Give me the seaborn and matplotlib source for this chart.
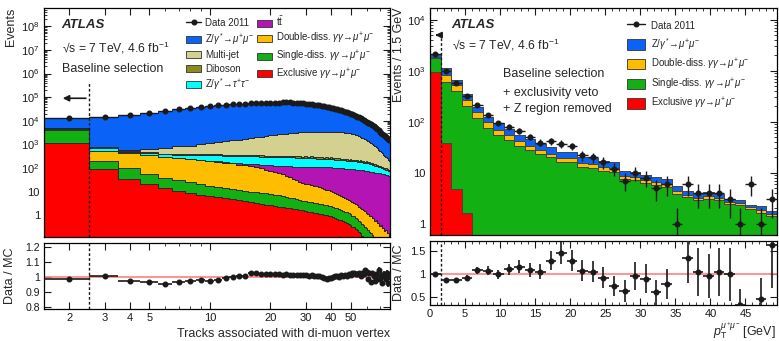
import numpy as np
import pandas as pd
import matplotlib
matplotlib.use("Agg")
import matplotlib.pyplot as plt
from matplotlib.ticker import FixedLocator, FuncFormatter, MultipleLocator, NullFormatter, LogLocator
from matplotlib.patches import Patch, Rectangle
from matplotlib.lines import Line2D
from matplotlib.legend_handler import HandlerPatch
import seaborn as sns

# ---------------- left panel: tracks at the di-muon vertex (bins 2..78) ----------------
tracks = list(range(2, 79))
data_left = [13300, 15000, 18000, 21000, 25000, 30500, 35000, 38500, 41500, 44500,
             47500, 50000, 52000, 54000, 55500, 56500, 57500, 58200, 58800, 59200,
             59500, 59700, 59800, 59700, 59000, 58000, 56500, 55000, 53500, 52000,
             50500, 49000, 47300, 45600, 43900, 42000, 40000, 38000, 36200, 34400,
             32600, 30800, 29100, 27500, 25900, 24400, 22900, 21500, 20100, 18800,
             17500, 16300, 15100, 14000, 12900, 11900, 10900, 10000, 9200, 8400,
             7700, 7000, 6400, 5800, 5300, 4800, 4300, 3900, 3500, 3150,
             2850, 2550, 2300, 2050, 1850, 1650, 1480]
ratio_left = [0.989, 1.009, 0.975, 0.968, 0.952, 0.964, 0.973, 0.982, 0.976, 0.981,
              0.997, 1.0, 1.01, 1.011, 1.026, 1.025, 1.023, 1.021, 1.02, 1.019,
              1.02, 1.017, 1.018, 1.016, 1.015, 1.014, 1.013, 1.012, 1.012, 1.01,
              1.013, 1.011, 1.007, 1.005, 0.998, 0.995, 0.99, 0.992, 0.995, 1.0,
              1.006, 1.01, 1.004, 1.012, 1.008, 1.015, 1.01, 1.02, 1.012, 1.025,
              1.03, 1.022, 1.018, 1.028, 1.01, 1.03, 1.02, 1.045, 1.035, 0.99,
              1.025, 0.968, 1.03, 1.01, 0.975, 1.02, 0.99, 1.05, 0.985, 1.015,
              0.962, 1.02, 1.0, 0.99, 1.025, 0.96, 1.01]
zmumu_left = [8640, 14110, 17860, 21080, 25550, 30820, 35080, 38210, 41370, 44110,
              46300, 48520, 49880, 51670, 52230, 53110, 54050, 54720, 55220, 55550,
              55650, 55910, 55850, 55750, 55030, 54010, 52520, 51040, 49480, 48060,
              46370, 44970, 43440, 41820, 40430, 38660, 36870, 34790, 32890, 30935,
              28970, 27100, 25630, 23880, 22460, 20870, 19570, 18050, 16930, 15520,
              14300, 13390, 12420, 11390, 10670, 9580, 8860, 8250, 7330, 7050,
              6200, 5990, 5140, 4780, 4550, 3940, 3660, 3180, 3020, 2640,
              2540, 2150, 2000, 1805, 1575, 1490, 1290]
multijet_left = [30, 50, 90, 150, 300, 420, 510, 610, 770, 870,
                 980, 1110, 1250, 1380, 1520, 1670, 1800, 1930, 2080, 2200,
                 2320, 2430, 2540, 2640, 2730, 2810, 2890, 2960, 3030, 3080,
                 3120, 3160, 3190, 3210, 3230, 3230, 3220, 3210, 3190, 3170,
                 3150, 3110, 3070, 3020, 2960, 2900, 2840, 2780, 2680, 2570,
                 2450, 2320, 2180, 2000, 1880, 1750, 1620, 1490, 1360, 1240,
                 1130, 1020, 910, 810, 720, 640, 560, 480, 420, 360,
                 310, 265, 225, 190, 160, 135, 115]
diboson_left = [15, 18, 18, 20, 22, 25, 22, 30, 26, 35,
                24, 40, 28, 45, 30, 38, 50, 33, 42, 28,
                47, 35, 52, 30, 44, 38, 55, 32, 46, 36,
                50, 29, 43, 38, 48, 27, 40, 34, 45, 26,
                38, 31, 42, 25, 36, 30, 39, 22, 33, 27,
                35, 20, 29, 24, 31, 18, 26, 21, 28, 16,
                23, 19, 24, 14, 20, 16, 21, 12, 17, 14,
                18, 11, 14, 12, 15, 9, 11]
ztautau_left = [60, 150, 60, 75, 95, 110, 125, 140, 150, 155,
                160, 163, 165, 166, 167, 167, 167, 166, 166, 166,
                166, 165, 165, 165, 164, 164, 163, 160, 156, 152,
                148, 145, 141, 138, 135, 134, 132, 130, 128, 127,
                125, 123, 121, 119, 117, 115, 113, 112, 110, 108,
                106, 104, 102, 100, 97, 94, 92, 89, 86, 84,
                81, 76, 72, 67, 63, 59, 54, 49, 47, 44,
                41, 38, 35, 33, 30, 28, 26]
ttbar_left = [0.3, 0.5, 0.8, 1.2, 1.7, 2.3, 3.0, 4.0, 5.0, 6.5,
              8, 12, 18, 24, 30, 36, 42, 48, 54, 59,
              64, 69, 73, 77, 80, 83, 86, 88, 90, 92,
              93, 94, 95, 95, 96, 96, 96, 96, 96, 95,
              95, 94, 93, 92, 91, 90, 89, 88, 87, 86,
              85, 83, 82, 80, 79, 78, 77, 76, 74, 72,
              70, 68, 67, 66, 64, 63, 62, 60, 59, 57,
              56, 54, 53, 52, 50, 48, 47]
double_left = [650, 340, 338, 315, 253, 230, 210, 194, 177, 168,
               156, 143, 129, 118, 107, 96, 87, 78, 67, 60,
               53, 47, 41, 35, 30, 26, 21, 19.5, 18, 16.8,
               15.5, 14.4, 13.3, 12.3, 11.3, 10.4, 9.5, 8.7, 8.0, 7.2,
               6.5, 5.9, 5.4, 4.9, 4.4, 4.0, 3.6, 3.3, 3.0, 2.6,
               2.45, 2.1, 2.0, 1.7, 1.5, 1.45, 1.2, 1.15, 0.95, 0.9,
               0.75, 0.8, 0.6, 0.62, 0.48, 0.52, 0.38, 0.42, 0.3, 0.33,
               0.24, 0.26, 0.18, 0.2, 0.14, 0.15, 0.1]
single_left = [2950, 112, 63, 34, 23, 19, 16.5, 13.5, 11.2, 10,
               8.7, 7.8, 6.9, 6.6, 6.3, 6.1, 5.8, 5.6, 5.4, 5.0,
               4.6, 4.3, 4.0, 3.6, 3.3, 3.0, 2.7, 2.55, 2.45, 2.35,
               2.25, 2.15, 2.05, 1.95, 1.85, 1.75, 1.65, 1.55, 1.45, 1.38,
               1.3, 1.22, 1.15, 1.05, 0.98, 0.9, 0.85, 0.78, 0.72, 0.62,
               0.58, 0.5, 0.46, 0.4, 0.36, 0.3, 0.28, 0.22, 0.2, 0.17,
               0.14, 0.12, 0.1, 0.09, 0.08, 0.06, 0.07, 0.05, 0.04, 0.05,
               0.03, 0.03, 0.02, 0.03, 0.02, 0.02, 0.01]
excl_left = [1100, 88, 34, 21, 14, 11, 8.5, 7.5, 6.6, 5.9,
             5.3, 4.8, 4.3, 3.9, 3.6, 3.3, 3.0, 2.8, 2.6, 2.45,
             2.3, 2.2, 2.1, 2.0, 1.9, 1.8, 1.7, 1.6, 1.5, 1.42,
             1.35, 1.28, 1.2, 1.15, 1.1, 1.05, 1.0, 0.95, 0.9, 0.84,
             0.78, 0.72, 0.66, 0.6, 0.55, 0.5, 0.46, 0.42, 0.38, 0.33,
             0.31, 0.26, 0.24, 0.19, 0.18, 0.13, 0.12, 0.09, 0.08, 0.07,
             0.06, 0.05, 0.04, 0.03, 0.03, 0.02, 0.02, 0.02, 0.01, 0.01,
             0.01, 0.01, 0.01, 0.01, 0.01, 0.01, 0.01]

# ---------------- right panel: di-muon pT, 1.5 GeV bins ----------------
pt_centers = [0.75 + 1.5 * i for i in range(33)]
data_right = [2100, 970, 580, 320, 210, 134, 93, 80, 66, 50,
              39, 41, 37, 33, 22, 20, 16, 12, 7, 10,
              8, 5, 6, 1, 6, 4, 4, 4, 3, 1,
              6, 1, 3]
ratio_right = [1.0, 0.87, 0.87, 0.93, 1.09, 1.08, 1.0, 1.11, 1.17, 1.09,
               1.06, 1.3, 1.46, 1.3, 1.08, 1.06, 0.93, 0.74, 0.64, 0.96,
               0.9, 0.61, 0.79, 0.18, 1.36, 1.05, 0.96, 1.05, 1.0, 0.34,
               2.6, 0.46, 1.64]
zmumu_right = [200, 290, 140, 72, 40, 27, 23, 18, 14, 12,
               9.5, 8, 6, 6, 4.6, 4.3, 4, 3.7, 2.3, 2.1,
               1.8, 1.6, 1.6, 1.1, 0.7, 0.55, 0.7, 0.55, 0.35, 0.35,
               0.2, 0.35, 0.25]
double_right = [150, 230, 130, 65, 35, 21, 14, 10, 8, 6,
                4.5, 3.5, 3, 3, 2.4, 2.2, 2, 1.8, 1.2, 1.1,
                0.9, 0.8, 0.7, 0.5, 0.4, 0.35, 0.4, 0.35, 0.25, 0.25,
                0.2, 0.25, 0.15]
single_right = [800, 560, 390, 205, 118, 76, 56, 44, 34, 28,
                23, 20, 16, 16, 13, 12.5, 11, 10.5, 7.5, 7.2,
                6.2, 5.8, 5.3, 3.9, 3.3, 2.9, 3.1, 2.9, 2.4, 2.3,
                1.9, 1.6, 1.4]
excl_right = [950, 38, 4.8, 1.6] + [0] * 29

lab_data = "Data 2011"
lab_zmumu = r"Z/$\gamma^{*}\!\rightarrow\!\mu^{+}\mu^{-}$"
lab_mj = "Multi-jet"
lab_dib = "Diboson"
lab_ztt = r"Z/$\gamma^{*}\!\rightarrow\!\tau^{+}\tau^{-}$"
lab_tt = r"$\mathrm{t}\bar{\mathrm{t}}$"
lab_dd = r"Double-diss. $\gamma\gamma\!\rightarrow\!\mu^{+}\mu^{-}$"
lab_sd = r"Single-diss. $\gamma\gamma\!\rightarrow\!\mu^{+}\mu^{-}$"
lab_ex = r"Exclusive $\gamma\gamma\!\rightarrow\!\mu^{+}\mu^{-}$"

palette = {lab_zmumu: "#0a62f7", lab_mj: "#d4d08f", lab_dib: "#8a8a1e",
           lab_ztt: "#00ffff", lab_tt: "#b514b5", lab_dd: "#ffbd00",
           lab_sd: "#12b012", lab_ex: "#ff0000"}

sns.set_theme(style="ticks")
plt.rcParams['font.family'] = ['Liberation Sans', 'DejaVu Sans']
plt.rcParams['mathtext.fontset'] = 'custom'
plt.rcParams['mathtext.rm'] = 'Liberation Sans'
plt.rcParams['mathtext.it'] = 'Liberation Sans:italic'
plt.rcParams['mathtext.bf'] = 'Liberation Sans:bold'
plt.rcParams['axes.edgecolor'] = 'black'
plt.rcParams['axes.linewidth'] = 0.9

fig = plt.figure(figsize=(7.79, 3.41), dpi=100)
axL = fig.add_axes([0.0565, 0.305, 0.4442, 0.6716])
axLr = fig.add_axes([0.0565, 0.0938, 0.4442, 0.1935])
axR = fig.add_axes([0.552, 0.3109, 0.4454, 0.6657])
axRr = fig.add_axes([0.552, 0.1056, 0.4454, 0.1877])

# stacked MC, left (binned on linear edges, axes switched to log afterwards)
left_parts = {lab_zmumu: zmumu_left, lab_mj: multijet_left, lab_dib: diboson_left,
              lab_ztt: ztautau_left, lab_tt: ttbar_left, lab_dd: double_left,
              lab_sd: single_left, lab_ex: excl_left}
df_left = pd.concat([pd.DataFrame({"tracks": tracks, "events": v, "sample": k})
                     for k, v in left_parts.items()], ignore_index=True)
track_edges = [1.5 + i for i in range(78)]
sns.histplot(data=df_left, x="tracks", weights="events", hue="sample",
             hue_order=list(left_parts.keys()), palette=palette, multiple="stack",
             element="step", bins=track_edges, alpha=1, edgecolor="#222222",
             linewidth=0.6, legend=False, ax=axL)
axL.set_xscale('log')
axL.set_yscale('log')
axL.errorbar(tracks, data_left, xerr=0.5, fmt='o', color='k', ms=3.3, lw=1.0,
             capsize=0, zorder=5)

# stacked MC, right
right_parts = {lab_zmumu: zmumu_right, lab_dd: double_right,
               lab_sd: single_right, lab_ex: excl_right}
df_right = pd.concat([pd.DataFrame({"pt": pt_centers, "events": v, "sample": k})
                      for k, v in right_parts.items()], ignore_index=True)
pt_edges = [1.5 * i for i in range(34)]
sns.histplot(data=df_right, x="pt", weights="events", hue="sample",
             hue_order=list(right_parts.keys()), palette=palette, multiple="stack",
             element="step", bins=pt_edges, alpha=1, edgecolor="#444444",
             linewidth=0.7, legend=False, ax=axR)
axR.set_yscale('log')
axR.errorbar(pt_centers, data_right, xerr=0.75, yerr=np.sqrt(data_right), fmt='o',
             color='k', ms=3.3, lw=1.0, capsize=0, zorder=5)

# ratio panels
rl = np.array(ratio_left)
axLr.axhline(1, color='#ff8080', lw=1.2, zorder=1)
axLr.errorbar(tracks, rl, xerr=0.5, yerr=rl / np.sqrt(data_left), fmt='o', color='k',
              ms=3.3, lw=1.2, capsize=0, zorder=5)
rr = np.array(ratio_right)
inside = (rr > 0.33) & (rr < 1.73)
axRr.axhline(1, color='#ff8080', lw=1.2, zorder=1)
axRr.errorbar(np.array(pt_centers)[inside], rr[inside], xerr=0.75,
              yerr=(rr / np.sqrt(data_right))[inside], fmt='o', color='k', ms=3.3,
              lw=1.2, capsize=0, zorder=5)

# axes ranges and ticks
for ax in (axL, axLr):
    ax.set_xscale('log')
    ax.set_xlim(1.5, 78.5)
    ax.xaxis.set_major_locator(FixedLocator([2, 3, 4, 5, 10, 20, 30, 40, 50]))
    ax.xaxis.set_minor_locator(FixedLocator([6, 7, 8, 9, 60, 70]))
    ax.xaxis.set_minor_formatter(NullFormatter())
    ax.axvline(2.5, color='k', ls=(0, (2, 1.5)), lw=1.0,
               ymax=0.672 if ax is axL else 1, zorder=6)
for ax in (axR, axRr):
    ax.set_xlim(0, 49.5)
    ax.xaxis.set_major_locator(MultipleLocator(5))
    ax.xaxis.set_minor_locator(MultipleLocator(1))
    ax.axvline(1.5, color='k', ls=(0, (2, 1.5)), lw=1.0,
               ymax=0.894 if ax is axR else 1, zorder=6)

def pow_fmt(v, pos):
    if v <= 0:
        return ''
    e = int(round(np.log10(v)))
    if e == 0:
        return '1'
    if e == 1:
        return '10'
    return r'$10^{%d}$' % e

for ax, lo, hi in ((axL, 0.12, 6e8), (axR, 0.6, 1.7e4)):
    ax.set_ylim(lo, hi)
    ax.yaxis.set_major_locator(LogLocator(base=10, numticks=20))
    ax.yaxis.set_minor_locator(LogLocator(base=10, subs=np.arange(2, 10), numticks=20))
    ax.yaxis.set_major_formatter(FuncFormatter(pow_fmt))
    ax.yaxis.set_minor_formatter(NullFormatter())
    ax.tick_params(axis='x', labelbottom=False)

axLr.set_ylim(0.785, 1.23)
axLr.set_yticks([0.8, 0.9, 1.0, 1.1, 1.2])
axRr.set_ylim(0.33, 1.73)
axRr.set_yticks([0.5, 1.0, 1.5])
for ax in (axLr, axRr):
    ax.yaxis.set_major_formatter(FuncFormatter(lambda v, p: '%g' % v))
    ax.xaxis.set_major_formatter(FuncFormatter(lambda v, p: '%g' % v))

for ax in (axL, axLr, axR, axRr):
    ax.tick_params(which='both', direction='in', top=True, right=True,
                   labelsize=8, colors='k', pad=3)
    ax.tick_params(which='major', length=5, width=0.8)
    ax.tick_params(which='minor', length=2.5, width=0.6)
    ax.set_xlabel('')
    ax.set_ylabel('')
axLr.tick_params(axis='y', labelsize=7.6)

axL.set_ylabel('Events', fontsize=9, loc='top')
axL.yaxis.set_label_coords(-0.078, 1.0)
axR.set_ylabel('Events / 1.5 GeV', fontsize=9, loc='top')
axR.yaxis.set_label_coords(-0.071, 1.0)
axLr.set_ylabel('Data / MC', fontsize=9)
axLr.yaxis.set_label_coords(-0.08, 0.5)
axRr.set_ylabel('Data / MC', fontsize=9)
axRr.yaxis.set_label_coords(-0.071, 0.5)
axLr.set_xlabel('Tracks associated with di-muon vertex', fontsize=9, loc='right')
axLr.xaxis.set_label_coords(1.0, -0.29)
axRr.set_xlabel(r'$p_{\mathrm{T}}^{\mu^{+}\mu^{-}}$ [GeV]', fontsize=9, loc='right')
axRr.xaxis.set_label_coords(0.998, -0.235)

# annotations
for ax, x0 in ((axL, 0.051), (axR, 0.0625)):
    ax.text(x0, 0.926, 'ATLAS', transform=ax.transAxes, fontsize=9.5,
            fontweight='bold', fontstyle='italic', va='center')
axL.text(0.051, 0.825, '√s = 7 TeV, 4.6 fb$^{-1}$', transform=axL.transAxes,
         fontsize=8.7, va='center')
axR.text(0.0625, 0.837, '√s = 7 TeV, 4.6 fb$^{-1}$', transform=axR.transAxes,
         fontsize=8.7, va='center')
axL.text(0.051, 0.734, 'Baseline selection', transform=axL.transAxes, fontsize=9,
         va='center')
for yy, s in ((0.709, 'Baseline selection'), (0.626, '+ exclusivity veto'),
              (0.555, '+ Z region removed')):
    axR.text(0.2095, yy, s, transform=axR.transAxes, fontsize=9, va='center')

axL.annotate('', xy=(1.8, 9e4), xytext=(2.5, 9e4),
             arrowprops=dict(arrowstyle='-|>', color='k', lw=1.2, mutation_scale=9))
axR.annotate('', xy=(0.35, 5e3), xytext=(1.5, 5e3),
             arrowprops=dict(arrowstyle='-|>', color='k', lw=1.2, mutation_scale=9))

# legends: boxes drawn smaller than the (uniform) handle slot
def box(lab):
    return Patch(facecolor=palette[lab], edgecolor='#333333', lw=0.6, label=lab)

def box_handler(frac):
    def patch_func(legend, orig_handle, xdescent, ydescent, width, height, fontsize):
        return Rectangle((-xdescent, -ydescent + 0.5 * (1 - frac) * height),
                         width, frac * height)
    return HandlerPatch(patch_func=patch_func)

data_handle = Line2D([], [], color='k', marker='o', ms=3.3, lw=1.0, label=lab_data)
hl = [data_handle, box(lab_zmumu), box(lab_mj), box(lab_dib), box(lab_ztt),
      box(lab_tt), box(lab_dd), box(lab_sd), box(lab_ex)]
axL.legend(handles=hl, ncol=2, loc='upper left', bbox_to_anchor=(0.41, 0.972),
           frameon=False, fontsize=7, handlelength=1.6, handleheight=1.4,
           labelspacing=0.24, columnspacing=0.3, handletextpad=0.35,
           borderpad=0, borderaxespad=0, handler_map={Patch: box_handler(0.62)})
hr = [data_handle, box(lab_zmumu), box(lab_dd), box(lab_sd), box(lab_ex)]
axR.legend(handles=hr, loc='upper left', bbox_to_anchor=(0.567, 0.95),
           frameon=False, fontsize=7, handlelength=1.9, handleheight=1.55,
           labelspacing=0.47, handletextpad=0.55, borderpad=0, borderaxespad=0,
           handler_map={Patch: box_handler(0.88)})

fig.savefig('out.png', dpi=100)
